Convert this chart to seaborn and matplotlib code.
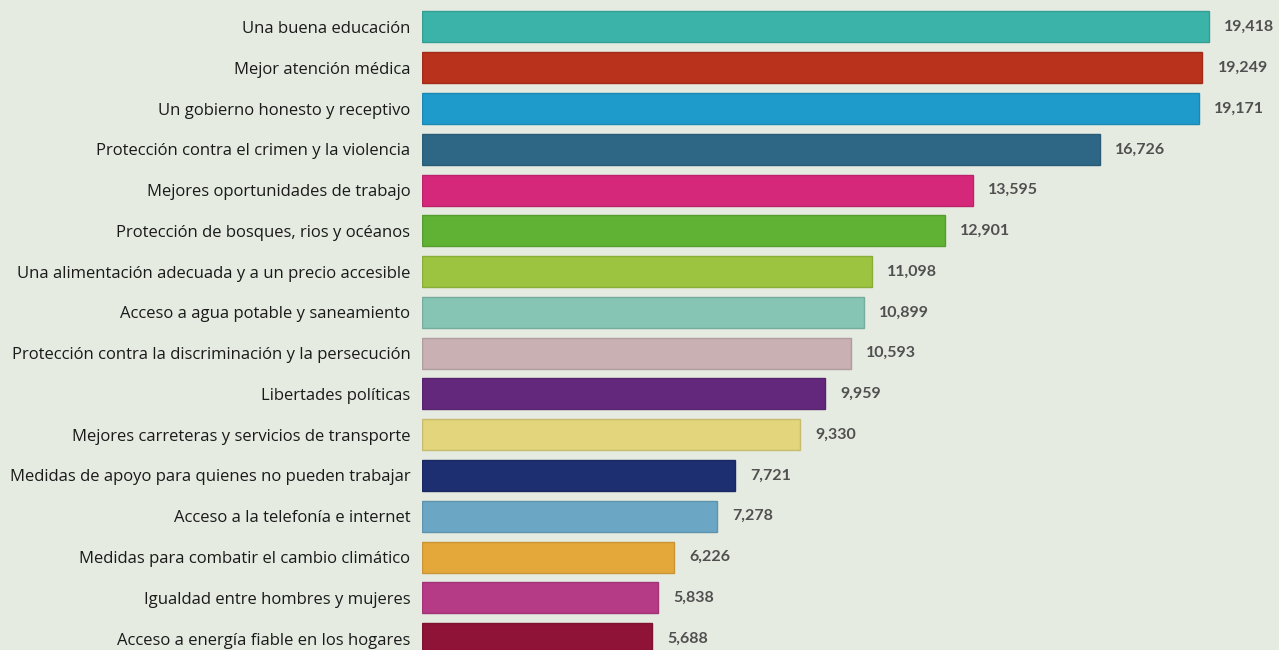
import matplotlib
matplotlib.use("Agg")
import matplotlib.pyplot as plt
import matplotlib.colors as mcolors
import seaborn as sns
import pandas as pd

# data
categories = [
    "Una buena educación",
    "Mejor atención médica",
    "Un gobierno honesto y receptivo",
    "Protección contra el crimen y la violencia",
    "Mejores oportunidades de trabajo",
    "Protección de bosques, rios y océanos",
    "Una alimentación adecuada y a un precio accesible",
    "Acceso a agua potable y saneamiento",
    "Protección contra la discriminación y la persecución",
    "Libertades políticas",
    "Mejores carreteras y servicios de transporte",
    "Medidas de apoyo para quienes no pueden trabajar",
    "Acceso a la telefonía e internet",
    "Medidas para combatir el cambio climático",
    "Igualdad entre hombres y mujeres",
    "Acceso a energía fiable en los hogares",
]
votes = [19418, 19249, 19171, 16726, 13595, 12901, 11098, 10899,
         10593, 9959, 9330, 7721, 7278, 6226, 5838, 5688]
colors = ["#3bb3a8", "#b8321c", "#1f9bcb", "#2e6786", "#d6287a", "#5fb234",
          "#9dc441", "#86c4b3", "#c8b0b3", "#63287c", "#e2d57c", "#1d2f70",
          "#6ba7c5", "#e4a83a", "#b63b87", "#8e1337"]

bg = "#e5ebe1"
df = pd.DataFrame({"category": categories, "votes": votes})

fig = plt.figure(figsize=(12.79, 6.5), dpi=100, facecolor=bg)
# axes starts where the bars start, runs to the right edge
ax = fig.add_axes([421.5 / 1279, 0, 1 - 421.5 / 1279, 1])
ax.set_facecolor(bg)

sns.barplot(data=df, x="votes", y="category", hue="category",
            palette=colors, orient="h", width=0.76, saturation=1,
            legend=False, ax=ax)

# slightly darker outline like the original
for patch, c in zip(ax.patches, colors):
    rgb = mcolors.to_rgb(c)
    patch.set_edgecolor(tuple(v * 0.88 for v in rgb))
    patch.set_linewidth(1.0)

for cont in ax.containers:
    ax.bar_label(cont, labels=[f"{v:,.0f}" for v in cont.datavalues],
                 padding=11, fontsize=11.5, color="#505050",
                 family="Lato", fontweight="bold")

ax.set_xlim(0, 857.5 / 0.04056)
ax.set_ylim(15.28, -0.662)
ax.set_xlabel("")
ax.set_ylabel("")
ax.set_xticks([])
ax.tick_params(axis="y", length=0, pad=8)
for lab in ax.get_yticklabels():
    lab.set_fontsize(12)
    lab.set_family("Open Sans")
    lab.set_color("#1a1a1a")
for s in ax.spines.values():
    s.set_visible(False)

fig.savefig("out.png", dpi=100, facecolor=bg)
